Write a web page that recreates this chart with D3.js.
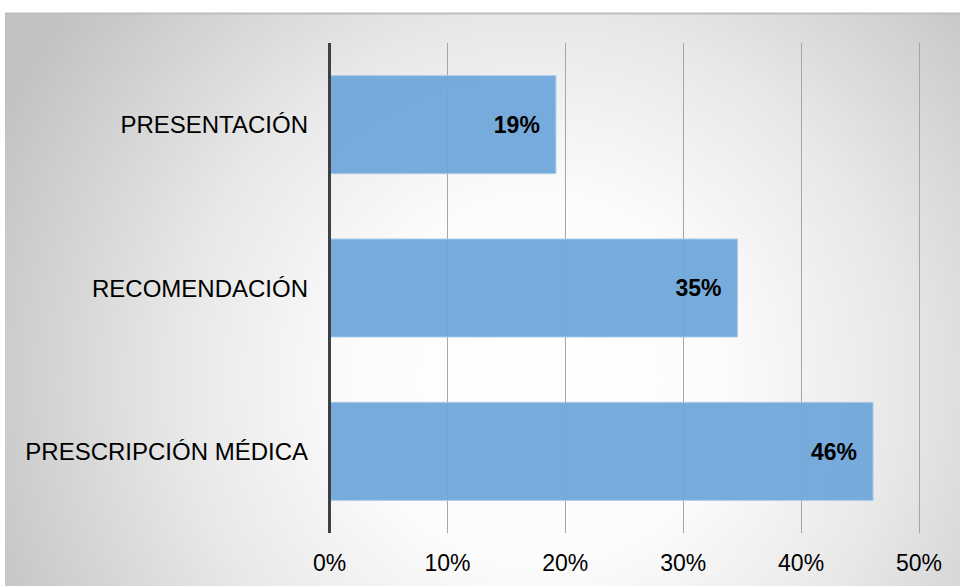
<!DOCTYPE html>
<html><head><meta charset="utf-8">
<script src="https://cdn.jsdelivr.net/npm/d3@7"></script>
<style>body{margin:0;background:#fff}svg{display:block}</style>
</head><body>
<script>
const categories = ["PRESENTACIÓN", "RECOMENDACIÓN", "PRESCRIPCIÓN MÉDICA"];
const values = [0.192, 0.346, 0.461];
const valueLabels = ["19%", "35%", "46%"];
const ticks = [0, 0.1, 0.2, 0.3, 0.4, 0.5];

const W = 960, H = 587;
const svg = d3.select("body").append("svg").attr("width", W).attr("height", H);
const defs = svg.append("defs");
const rg = defs.append("radialGradient").attr("id", "bg")
  .attr("gradientUnits", "userSpaceOnUse")
  .attr("cx", 540).attr("cy", 380).attr("r", 600);
rg.append("stop").attr("offset", "0").attr("stop-color", "#ffffff");
rg.append("stop").attr("offset", "0.3").attr("stop-color", "#fcfcfc");
rg.append("stop").attr("offset", "0.6").attr("stop-color", "#e8e8e8");
rg.append("stop").attr("offset", "1").attr("stop-color", "#c2c2c2");

svg.append("rect").attr("x", 5).attr("y", 13).attr("width", W - 5).attr("height", 573).attr("fill", "url(#bg)");
svg.append("line").attr("x1", 5).attr("x2", W).attr("y1", 13.5).attr("y2", 13.5).attr("stroke", "#bdbdbd").attr("stroke-width", 2);

const x = d3.scaleLinear().domain([0, 0.5]).range([329.5, 919]);
const y = d3.scaleBand().domain(categories).range([43, 533]).paddingInner(0.4).paddingOuter(0.2);

// gridlines
svg.append("g").selectAll("line").data(ticks.slice(1)).join("line")
  .attr("x1", d => Math.round(x(d)) + 0.5).attr("x2", d => Math.round(x(d)) + 0.5)
  .attr("y1", 43).attr("y2", 533)
  .attr("stroke", "#a6a6a6").attr("stroke-width", 1);

// bars
svg.append("g").selectAll("rect").data(categories).join("rect")
  .attr("x", x(0)).attr("y", d => y(d))
  .attr("width", (d, i) => x(values[i]) - x(0))
  .attr("height", y.bandwidth())
  .attr("fill", "#6fa6d9").attr("fill-opacity", 0.95)
  .attr("stroke", "#a9cbea").attr("stroke-width", 1);

// zero axis
svg.append("line").attr("x1", x(0)).attr("x2", x(0)).attr("y1", 43).attr("y2", 533)
  .attr("stroke", "#404040").attr("stroke-width", 3);

const font = "Liberation Sans, Arial, sans-serif";
// value labels
svg.append("g").selectAll("text").data(categories).join("text")
  .attr("x", (d, i) => x(values[i]) - 16)
  .attr("y", d => y(d) + y.bandwidth() / 2)
  .attr("dy", "0.36em")
  .attr("text-anchor", "end")
  .attr("font-family", font).attr("font-weight", "bold").attr("font-size", 23)
  .attr("fill", "#000").text((d, i) => valueLabels[i]);

// category labels
svg.append("g").selectAll("text").data(categories).join("text")
  .attr("x", 308).attr("y", d => y(d) + y.bandwidth() / 2)
  .attr("dy", "0.36em").attr("text-anchor", "end")
  .attr("font-family", font).attr("font-size", 24).attr("fill", "#000")
  .text(d => d);

// tick labels
svg.append("g").selectAll("text").data(ticks).join("text")
  .attr("x", d => x(d)).attr("y", 571)
  .attr("text-anchor", "middle")
  .attr("font-family", font).attr("font-size", 23).attr("fill", "#000")
  .text(d => d3.format(".0%")(d));
</script>
</body></html>
